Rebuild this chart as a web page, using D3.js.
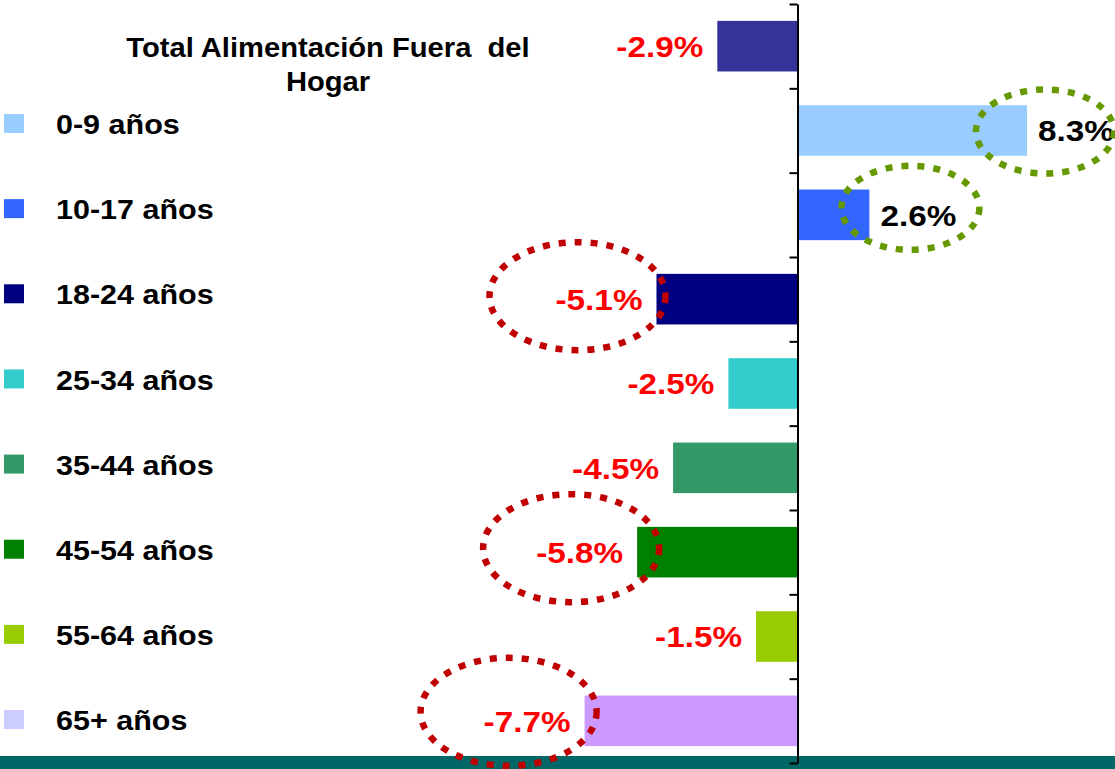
<!DOCTYPE html>
<html>
<head>
<meta charset="utf-8">
<script src="https://cdn.jsdelivr.net/npm/d3@7"></script>
<style>
  html, body { margin: 0; padding: 0; background: #fff; }
  svg { display: block; }
  text { font-family: Arial, "Liberation Sans", sans-serif; font-weight: bold; white-space: pre; }
</style>
</head>
<body>
<svg id="chart" width="1115" height="769"></svg>
<script>
// ---- data ----
const categories = ["Total", "0-9 años", "10-17 años", "18-24 años", "25-34 años", "35-44 años", "45-54 años", "55-64 años", "65+ años"];
const values = [-2.9, 8.3, 2.6, -5.1, -2.5, -4.5, -5.8, -1.5, -7.7];
const barColors = ["#333399", "#99CCFF", "#3366FF", "#000080", "#33CCCC", "#339966", "#008000", "#99CC00", "#CC99FF"];
const legendLabels = ["0-9 años", "10-17 años", "18-24 años", "25-34 años", "35-44 años", "45-54 años", "55-64 años", "65+ años"];
const legendColors = ["#99CCFF", "#3366FF", "#000080", "#33CCCC", "#339966", "#008000", "#99CC00", "#CCCCFF"];
const titleLines = ["Total Alimentación Fuera  del", "Hogar"];

const svg = d3.select("#chart");
const W = 1115, H = 769;

const x = d3.scaleLinear().domain([-10, 10]).range([521, 1074]);
const y = d3.scaleBand().domain(categories).range([4, 763]).paddingInner(0.4).paddingOuter(0.2);

// bottom band
svg.append("rect").attr("x", 0).attr("y", 756).attr("width", W).attr("height", H - 756).attr("fill", "#006666");

// bars
svg.append("g").selectAll("rect").data(categories).join("rect")
  .attr("x", (d, i) => x(Math.min(0, values[i])))
  .attr("width", (d, i) => Math.abs(x(values[i]) - x(0)))
  .attr("y", d => y(d))
  .attr("height", y.bandwidth())
  .attr("fill", (d, i) => barColors[i]);

// axis (vertical, ticks at band boundaries)
const axisScale = d3.scaleLinear().domain([0, categories.length]).range([4, 763]);
const axis = d3.axisLeft(axisScale).tickValues(d3.range(categories.length + 1)).tickFormat("").tickSize(8).tickSizeOuter(0);
const ag = svg.append("g").attr("transform", `translate(${x(0)},0)`).call(axis);
ag.select(".domain").attr("stroke", "#000").attr("stroke-width", 2);
ag.selectAll(".tick line").attr("stroke", "#000").attr("stroke-width", 2);

// value labels
const fmt = v => (v < 0 ? "-" : "") + Math.abs(v).toFixed(1) + "%";
svg.append("g").selectAll("text").data(categories).join("text")
  .attr("transform", (d, i) => {
    const v = values[i];
    const px = v < 0 ? x(v) - 14 : x(v) + 11;
    return `translate(${px},${y(d) + y.bandwidth() / 2}) scale(1.11,1)`;
  })
  .attr("dy", "0.36em")
  .attr("text-anchor", (d, i) => values[i] < 0 ? "end" : "start")
  .attr("font-size", 30)
  .attr("fill", (d, i) => values[i] < 0 ? "#FF0000" : "#000000")
  .text((d, i) => fmt(values[i]));

// annotation ellipses (dx/dy relative to bar end / bar centre)
const annotations = [
  { cat: "0-9 años", dx: 18, dy: 1, rx: 69, ry: 42, color: "#669900" },
  { cat: "10-17 años", dx: 41, dy: -7, rx: 69, ry: 42, color: "#669900" },
  { cat: "18-24 años", dx: -79, dy: -3, rx: 88, ry: 54, color: "#C00000" },
  { cat: "45-54 años", dx: -66, dy: -4, rx: 88, ry: 54, color: "#C00000" },
  { cat: "65+ años", dx: -76, dy: -9, rx: 88, ry: 54, color: "#C00000" }
];
svg.append("g").selectAll("ellipse").data(annotations).join("ellipse")
  .attr("cx", a => x(values[categories.indexOf(a.cat)]) + a.dx)
  .attr("cy", a => y(a.cat) + y.bandwidth() / 2 + a.dy)
  .attr("rx", a => a.rx).attr("ry", a => a.ry)
  .attr("fill", "none")
  .attr("stroke", a => a.color)
  .attr("stroke-width", 6.5)
  .attr("stroke-dasharray", "7,9");

// title
const tg = svg.append("g");
titleLines.forEach((t, i) => {
  tg.append("text")
    .attr("transform", `translate(328,${57 + i * 34}) scale(1.08,1)`)
    .attr("text-anchor", "middle")
    .attr("font-size", 27)
    .attr("fill", "#000")
    .text(t);
});

// legend
const legY = d3.scalePoint().domain(legendLabels).range([124, 720]);
const lg = svg.append("g").selectAll("g").data(legendLabels).join("g")
  .attr("transform", d => `translate(0,${legY(d)})`);
lg.append("rect").attr("x", 4).attr("y", -10).attr("width", 20).attr("height", 19)
  .attr("fill", (d, i) => legendColors[i]);
lg.append("text").attr("transform", "translate(56,0) scale(1.09,1)")
  .attr("dy", "0.36em").attr("font-size", 28).attr("fill", "#000")
  .text(d => d);
</script>
</body>
</html>
